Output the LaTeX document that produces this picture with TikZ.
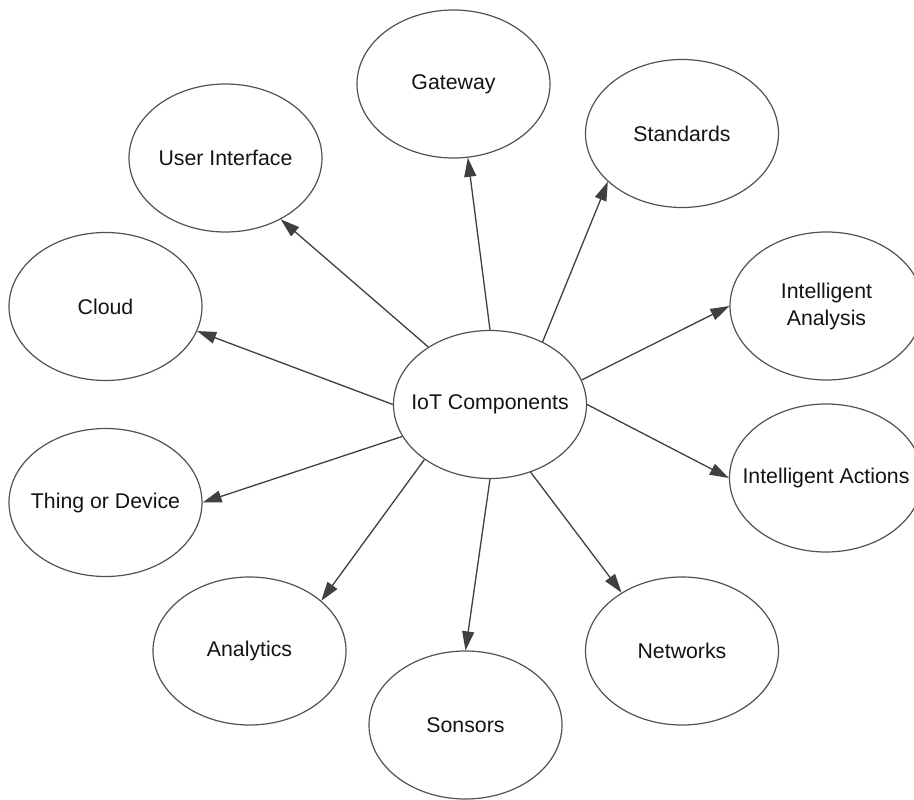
\documentclass[tikz,border=0pt]{standalone}
\usepackage{fontspec}
\setmainfont{Liberation Sans}
\usetikzlibrary{shapes.geometric,arrows.meta}
\begin{document}
\begin{tikzpicture}[x=1pt,y=-1pt,
  oval/.style={ellipse,draw=black!68,line width=1.2pt,minimum width=193pt,minimum height=148pt,inner sep=0pt},
  lbl/.style={font=\fontsize{21.3}{27}\selectfont,text=black!92,align=center,inner sep=0pt},
  conn/.style={draw=black!75,line width=1.3pt,-{Triangle[length=19pt,width=12pt]}}]
\useasboundingbox[fill=white] (0,0) rectangle (914,800);

\node[oval] (iot)   at (490,404.5) {};
\node[oval] (gw)    at (453.5,84) {};
\node[oval] (std)   at (682,133.5) {};
\node[oval] (ui)    at (225.5,158) {};
\node[oval] (cloud) at (105.5,306.5) {};
\node[oval] (ia)    at (826.5,306) {};
\node[oval] (iact)  at (826,478) {};
\node[oval] (thing) at (105.5,502.5) {};
\node[oval] (ana)   at (249.5,651) {};
\node[oval] (son)   at (465.5,725) {};
\node[oval] (net)   at (682,651) {};

\node[lbl] (tiot)   at (iot)   {IoT Components};
\node[lbl] (tgw)    at (gw)    {Gateway};
\node[lbl] (tstd)   at (std)   {Standards};
\node[lbl] (tui)    at (ui)    {User Interface};
\node[lbl] (tcloud) at (cloud) {Cloud};
\node[lbl] (tia)    at (ia)    {Intelligent\\Analysis};
\node[lbl] (tiact)  at (iact)  {Intelligent Actions};
\node[lbl] (tthing) at (thing) {Thing or Device};
\node[lbl] (tana)   at (ana)   {Analytics};
\node[lbl] (tson)   at (son)   {Sonsors};
\node[lbl] (tnet)   at (net)   {Networks};

\draw[conn] (iot.90)    -- (gw.-79);
\draw[conn] (iot.50)    -- (std.-147);
\draw[conn] (iot.15.5)  -- (ia.180);
\draw[conn] (iot.0)     -- (iact.180);
\draw[conn] (iot.-59)   -- (net.136);
\draw[conn] (iot.-90)   -- (son.90);
\draw[conn] (iot.220.5) -- (ana.35);
\draw[conn] (iot.200.6) -- (thing.0);
\draw[conn] (iot.180)   -- (cloud.-15);
\draw[conn] (iot.137)   -- (ui.-48.6);
\end{tikzpicture}
\end{document}
